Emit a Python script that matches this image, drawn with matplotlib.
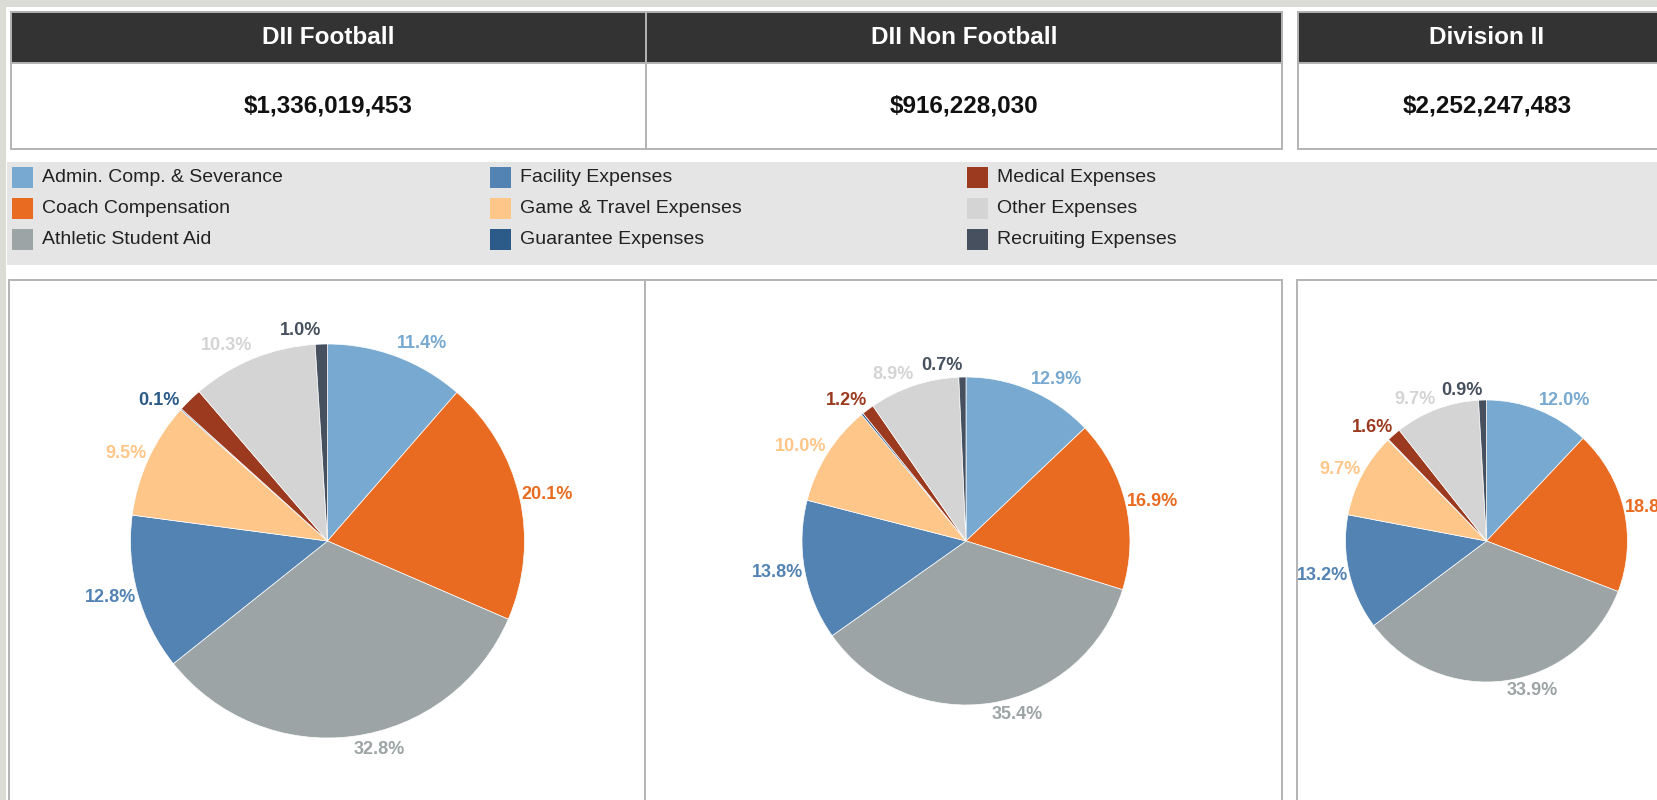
import numpy as np
import matplotlib
matplotlib.use('Agg')
import matplotlib.pyplot as plt
from matplotlib.patches import Rectangle

plt.rcParams['font.family'] = ['Liberation Sans', 'DejaVu Sans']

# Expense categories (legend order = slice order, clockwise from 12 o'clock)
categories = ['Admin. Comp. & Severance', 'Coach Compensation', 'Athletic Student Aid',
              'Facility Expenses', 'Game & Travel Expenses', 'Guarantee Expenses',
              'Medical Expenses', 'Other Expenses', 'Recruiting Expenses']
colors = ['#78a9d0', '#e96b21', '#9ca4a5', '#5283b3', '#fec688',
          '#2c5b8a', '#9c3a1f', '#d4d4d4', '#46505e']

panel_titles = ['DII Football', 'DII Non Football', 'Division II']
panel_totals = ['$1,336,019,453', '$916,228,030', '$2,252,247,483']

# Share of expenses (%)
football_pct = [11.4, 20.1, 32.8, 12.8, 9.5, 0.1, 2.0, 10.3, 1.0]
non_football_pct = [12.9, 16.9, 35.4, 13.8, 10.0, 0.2, 1.2, 8.9, 0.7]
division_pct = [12.0, 18.8, 33.9, 13.2, 9.7, 0.1, 1.6, 9.7, 0.9]

# labels that the original chart hides (overlap)
hidden_labels = [['Medical Expenses'], ['Guarantee Expenses'], ['Guarantee Expenses']]

W, H = 1657, 800
fig = plt.figure(figsize=(W / 100, H / 100), dpi=100)
fig.patch.set_facecolor('white')

# background axes in pixel coordinates for boxes and text
bg = fig.add_axes([0, 0, 1, 1])
bg.set_xlim(0, W)
bg.set_ylim(H, 0)
bg.axis('off')


def box(x0, y0, x1, y1, fc, ec='none', lw=0, z=1):
    bg.add_patch(Rectangle((x0, y0), x1 - x0, y1 - y0, facecolor=fc,
                           edgecolor=ec, linewidth=lw, zorder=z))


border = '#b3b3b3'

# page frame
box(0, 0, W, 7, '#dcdcd7')
box(0, 0, 6, H, '#dcdcd7')

# header boxes
header_x = [(11, 646), (646, 1282), (1298, 1676)]
for (x0, x1), title, total in zip(header_x, panel_titles, panel_totals):
    box(x0, 12, x1, 149, 'white', border, 1.4)
    box(x0, 12, x1, 63, '#333333', border, 1.4, z=2)
    cx = (x0 + x1) / 2
    bg.text(cx, 38, title, color='white', fontsize=17.5, fontweight='bold',
            ha='center', va='center', zorder=3)
    bg.text(cx, 106, total, color='#111111', fontsize=17.5, fontweight='bold',
            ha='center', va='center', zorder=3)

# legend band
box(7, 162, W, 265, '#e5e5e5')
legend_cols = [12, 490, 967]
legend_rows = [177.5, 208.5, 239]
for i, (cat, col) in enumerate(zip(categories, colors)):
    sx = legend_cols[i // 3]
    sy = legend_rows[i % 3]
    box(sx, sy - 10.5, sx + 21, sy + 10.5, col, z=2)
    bg.text(sx + 30, sy, cat, color='#222222', fontsize=14, ha='left',
            va='center', zorder=3)

# pie boxes
pie_box_x = [(9, 645), (645, 1282), (1297, 1680)]
for x0, x1 in pie_box_x:
    box(x0, 280, x1, H + 10, 'white', border, 1.4)

# pies
pie_geom = [(327.5, 541, 197), (966, 541, 164), (1486.5, 541, 141)]
all_pct = [football_pct, non_football_pct, division_pct]

for (cx, cy, r), pct, hide in zip(pie_geom, all_pct, hidden_labels):
    lim = 1.6
    half = r * lim
    ax = fig.add_axes([(cx - half) / W, 1 - (cy + half) / H, 2 * half / W, 2 * half / H])
    wedges, _ = ax.pie(pct, colors=colors, startangle=90, counterclock=False,
                       radius=1, wedgeprops=dict(edgecolor='white', linewidth=0.5))
    ax.set_xlim(-lim, lim)
    ax.set_ylim(-lim, lim)
    ax.set_aspect('equal')
    ax.axis('off')
    for w, v, cat in zip(wedges, pct, categories):
        if cat in hide:
            continue
        ang = np.deg2rad((w.theta1 + w.theta2) / 2)
        x = np.cos(ang) * 1.01
        y = np.sin(ang) * 1.07
        ha = 'left' if x >= 0 else 'right'
        ax.text(x, y, f'{v:.1f}%', ha=ha, va='center', color=w.get_facecolor(),
                fontsize=13, fontweight='bold')

fig.savefig('out.png', dpi=100)
